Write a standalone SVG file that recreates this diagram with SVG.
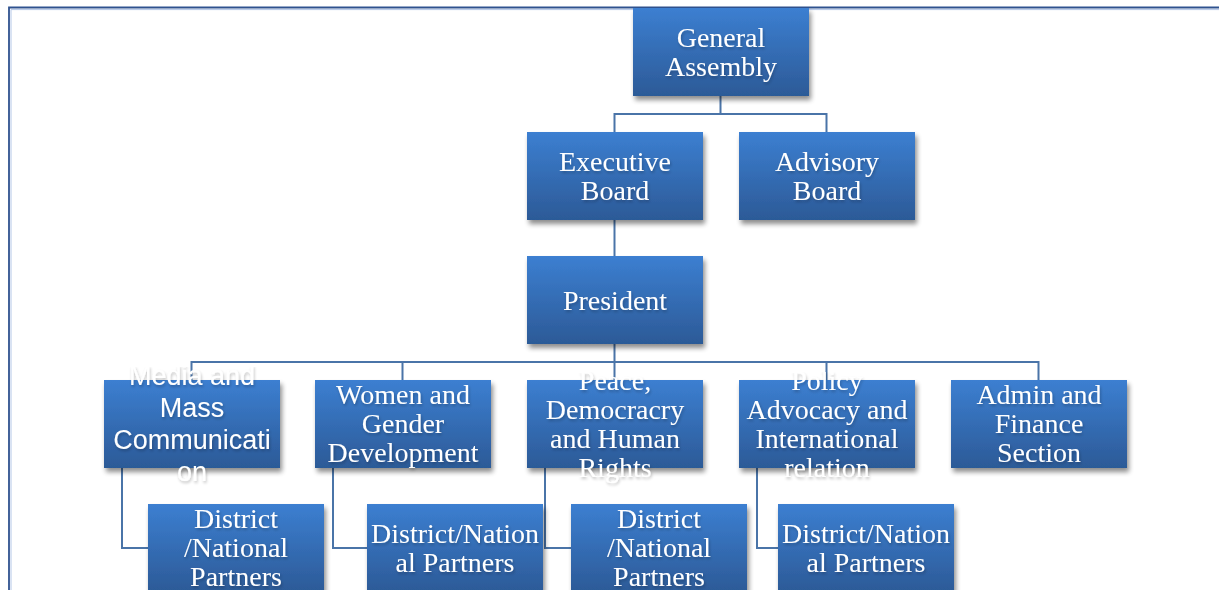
<svg xmlns="http://www.w3.org/2000/svg" width="1219" height="590" viewBox="0 0 1219 590">
<defs>
<linearGradient id="g" x1="0" y1="0" x2="0" y2="1">
<stop offset="0" stop-color="#3c7fd1"/>
<stop offset="1" stop-color="#2c5a97"/>
</linearGradient>
<filter id="sh" x="-10%" y="-10%" width="125%" height="130%">
<feGaussianBlur in="SourceAlpha" stdDeviation="2.5"/>
<feOffset dx="2" dy="4" result="b"/>
<feComponentTransfer><feFuncA type="linear" slope="0.45"/></feComponentTransfer>
<feMerge><feMergeNode/><feMergeNode in="SourceGraphic"/></feMerge>
</filter>
<filter id="tsh" x="-10%" y="-20%" width="120%" height="150%">
<feGaussianBlur in="SourceAlpha" stdDeviation="1.5"/>
<feOffset dx="1" dy="2" result="b"/>
<feComponentTransfer><feFuncA type="linear" slope="0.25"/></feComponentTransfer>
<feMerge><feMergeNode/><feMergeNode in="SourceGraphic"/></feMerge>
</filter>
<clipPath id="c1"><rect x="0" y="367" width="1219" height="223"/></clipPath>
<clipPath id="c2"><rect x="0" y="372" width="1219" height="218"/></clipPath>
</defs>
<style>
.box{fill:url(#g);filter:url(#sh)}
.t{font-family:"Liberation Serif","Times New Roman",serif;font-size:28px;fill:#ffffff;text-anchor:middle;filter:url(#tsh)}
.s{font-family:"Liberation Sans",Arial,sans-serif;font-size:27px;fill:#ffffff;text-anchor:middle;filter:url(#tsh)}
.ln{fill:none;stroke:#4a74a8;stroke-width:2}
</style>
<rect width="1219" height="590" fill="#ffffff"/>
<g id="frame">
<path d="M9 590 V7.5 H1219" fill="none" stroke="#2f528f" stroke-width="1.8"/>
<path d="M11 590 V9.6 H1219" fill="none" stroke="#b4c7e7" stroke-width="1"/>
</g>
<g id="connectors">
<path class="ln" d="M720.5 96 V114 M614.5 132 V114 H826.5 V132"/>
<path class="ln" d="M614.5 219 V256"/>
<path class="ln" d="M614.5 344 V362 M191.5 380 V362 H1038.5 V380 M402.5 362 V380 M614.5 362 V380 M826.5 362 V380"/>
<path class="ln" d="M122 468 V548 H148"/>
<path class="ln" d="M333 468 V548 H367"/>
<path class="ln" d="M545 468 V548 H571"/>
<path class="ln" d="M757 468 V548 H778"/>
</g>
<g id="general-assembly">
<rect class="box" x="633" y="8" width="176" height="88"/>
<text class="t" x="721" y="47">General</text>
<text class="t" x="721" y="76">Assembly</text>
</g>
<g id="executive-board">
<rect class="box" x="527" y="132" width="176" height="88"/>
<text class="t" x="615" y="171">Executive</text>
<text class="t" x="615" y="200">Board</text>
</g>
<g id="advisory-board">
<rect class="box" x="739" y="132" width="176" height="88"/>
<text class="t" x="827" y="171">Advisory</text>
<text class="t" x="827" y="200">Board</text>
</g>
<g id="president">
<rect class="box" x="527" y="256" width="176" height="88"/>
<text class="t" x="615" y="310">President</text>
</g>
<g id="media">
<rect class="box" x="104" y="380" width="176" height="88"/>
<g clip-path="url(#c1)">
<text class="s" x="192" y="385">Media and</text>
<text class="s" x="192" y="417">Mass</text>
<text class="s" x="192" y="449">Communicati</text>
<text class="s" x="192" y="481">on</text>
</g>
</g>
<g id="women">
<rect class="box" x="315" y="380" width="176" height="88"/>
<text class="t" x="403" y="404">Women and</text>
<text class="t" x="403" y="433">Gender</text>
<text class="t" x="403" y="462">Development</text>
</g>
<g id="peace">
<rect class="box" x="527" y="380" width="176" height="88"/>
<g clip-path="url(#c2)">
<text class="t" x="615" y="390">Peace,</text>
<text class="t" x="615" y="419">Democracry</text>
<text class="t" x="615" y="448">and Human</text>
<text class="t" x="615" y="477">Rights</text>
</g>
</g>
<g id="policy">
<rect class="box" x="739" y="380" width="176" height="88"/>
<g clip-path="url(#c2)">
<text class="t" x="827" y="390">Policy</text>
<text class="t" x="827" y="419">Advocacy and</text>
<text class="t" x="827" y="448">International</text>
<text class="t" x="827" y="477">relation</text>
</g>
</g>
<g id="admin">
<rect class="box" x="951" y="380" width="176" height="88"/>
<text class="t" x="1039" y="404">Admin and</text>
<text class="t" x="1039" y="433">Finance</text>
<text class="t" x="1039" y="462">Section</text>
</g>
<g id="district-media">
<rect class="box" x="148" y="504" width="176" height="88"/>
<text class="t" x="236" y="528">District</text>
<text class="t" x="236" y="557">/National</text>
<text class="t" x="236" y="586">Partners</text>
</g>
<g id="district-women">
<rect class="box" x="367" y="504" width="176" height="88"/>
<text class="t" x="455" y="543">District/Nation</text>
<text class="t" x="455" y="572">al Partners</text>
</g>
<g id="district-peace">
<rect class="box" x="571" y="504" width="176" height="88"/>
<text class="t" x="659" y="528">District</text>
<text class="t" x="659" y="557">/National</text>
<text class="t" x="659" y="586">Partners</text>
</g>
<g id="district-policy">
<rect class="box" x="778" y="504" width="176" height="88"/>
<text class="t" x="866" y="543">District/Nation</text>
<text class="t" x="866" y="572">al Partners</text>
</g>
</svg>
